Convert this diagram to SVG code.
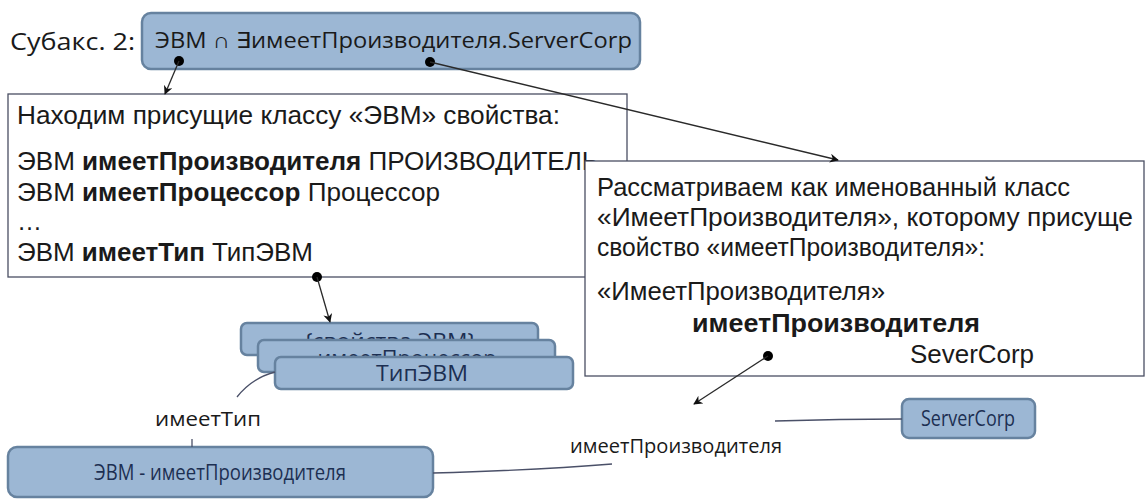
<svg xmlns="http://www.w3.org/2000/svg" width="1145" height="499" viewBox="0 0 1145 499">
<style>
.node{fill:#9cb7d4;stroke:#66829f;stroke-width:2.5}
.nt{font-family:"Open Sans","Liberation Sans",sans-serif;font-size:22px;fill:#1c2f52;text-anchor:middle}
.box{fill:#ffffff;stroke:#4a4f63;stroke-width:1.3}
.bt{font-family:"Liberation Sans",Arial,sans-serif;font-size:25px;fill:#1a1a1a}
.b{font-weight:bold}
.lbl{font-family:"Open Sans","Liberation Sans",sans-serif;font-size:20px;fill:#1a1a1a}
.ln{fill:none;stroke:#2a2a2a;stroke-width:1.3}
.edge{fill:none;stroke:#4a5068;stroke-width:1.3}
</style>
<defs>
<marker id="arr" viewBox="0 0 10 10" refX="9" refY="5" markerWidth="9" markerHeight="9" orient="auto" markerUnits="userSpaceOnUse">
<path d="M0,0 L10,5 L0,10 L3,5 z" fill="#111"/>
</marker>
</defs>
<text x="10" y="50" font-family="'Open Sans','Liberation Sans',sans-serif" font-size="23" fill="#1a1a1a" textLength="125" lengthAdjust="spacingAndGlyphs">Субакс. 2:</text>
<g id="axiom">
<rect class="node" x="142" y="13" width="498" height="56" rx="9"/>
<text x="155" y="48" font-family="'Open Sans','Liberation Sans',sans-serif" font-size="22" fill="#1a1a1a" textLength="477" lengthAdjust="spacingAndGlyphs">ЭВМ ∩ ∃имеетПроизводителя.ServerCorp</text>
</g>
<g id="leftbox">
<rect class="box" x="8" y="94" width="619" height="183"/>
<text class="bt" x="17" y="124" textLength="543" lengthAdjust="spacingAndGlyphs">Находим присущие классу «ЭВМ» свойства:</text>
<text class="bt" x="17" y="170" textLength="582" lengthAdjust="spacingAndGlyphs">ЭВМ <tspan class="b">имеетПроизводителя</tspan> ПРОИЗВОДИТЕЛЬ</text>
<text class="bt" x="17" y="201" textLength="423" lengthAdjust="spacingAndGlyphs">ЭВМ <tspan class="b">имеетПроцессор</tspan> Процессор</text>
<text class="bt" x="17" y="230">…</text>
<text class="bt" x="17" y="261" textLength="296" lengthAdjust="spacingAndGlyphs">ЭВМ <tspan class="b">имеетТип</tspan> ТипЭВМ</text>
</g>
<g id="rightbox">
<rect class="box" x="585" y="161" width="559" height="215"/>
<text class="bt" x="597" y="196" textLength="473" lengthAdjust="spacingAndGlyphs">Рассматриваем как именованный класс</text>
<text class="bt" x="597" y="226" textLength="536" lengthAdjust="spacingAndGlyphs">«ИмеетПроизводителя», которому присуще</text>
<text class="bt" x="597" y="256" textLength="388" lengthAdjust="spacingAndGlyphs">свойство «имеетПроизводителя»:</text>
<text class="bt" x="597" y="300" textLength="288" lengthAdjust="spacingAndGlyphs">«ИмеетПроизводителя»</text>
<text class="bt b" x="692" y="332" textLength="288" lengthAdjust="spacingAndGlyphs">имеетПроизводителя</text>
<text class="bt" x="910" y="363" textLength="124" lengthAdjust="spacingAndGlyphs">SeverCorp</text>
</g>
<g id="props1">
<rect class="node" x="241" y="323" width="297" height="32" rx="6"/>
<text class="nt" x="390" y="349" textLength="172" lengthAdjust="spacingAndGlyphs">{свойства ЭВМ}</text>
</g>
<g id="props2">
<rect class="node" x="258" y="340" width="297" height="32" rx="6"/>
<text class="nt" x="407" y="366" textLength="179" lengthAdjust="spacingAndGlyphs">имеетПроцессор</text>
</g>
<g id="tipevm">
<rect class="node" x="275" y="357" width="298" height="32" rx="6"/>
<text class="nt" x="422" y="381" textLength="92" lengthAdjust="spacingAndGlyphs">ТипЭВМ</text>
</g>
<g id="evm">
<rect class="node" x="8" y="447" width="425" height="50" rx="9"/>
<text class="nt" x="220" y="480" textLength="252" lengthAdjust="spacingAndGlyphs">ЭВМ - имеетПроизводителя</text>
</g>
<g id="servercorp">
<rect class="node" x="902" y="399" width="133" height="39" rx="7"/>
<text class="nt" x="968" y="426" textLength="94" lengthAdjust="spacingAndGlyphs">ServerCorp</text>
</g>
<g id="connectors">
<circle cx="179" cy="61" r="5" fill="#000"/>
<line class="ln" x1="179" y1="61" x2="165" y2="94" marker-end="url(#arr)"/>
<circle cx="430" cy="62" r="5" fill="#000"/>
<line class="ln" x1="430" y1="62" x2="838" y2="160" marker-end="url(#arr)"/>
<circle cx="317" cy="277" r="5" fill="#000"/>
<line class="ln" x1="317" y1="277" x2="330" y2="322" marker-end="url(#arr)"/>
<circle cx="768" cy="356" r="5" fill="#000"/>
<line class="ln" x1="768" y1="356" x2="694" y2="404" marker-end="url(#arr)"/>
<path class="edge" d="M275,372 Q252,378 237,397"/>
<line class="edge" x1="192" y1="439" x2="192" y2="447"/>
<text class="lbl" x="208" y="426" text-anchor="middle" textLength="106" lengthAdjust="spacingAndGlyphs">имеетТип</text>
<path class="edge" d="M433,473 Q540,470 612,464"/>
<path class="edge" d="M775,421 Q840,419 902,419"/>
<text class="lbl" x="676" y="453" text-anchor="middle" textLength="212" lengthAdjust="spacingAndGlyphs">имеетПроизводителя</text>
</g>
</svg>
